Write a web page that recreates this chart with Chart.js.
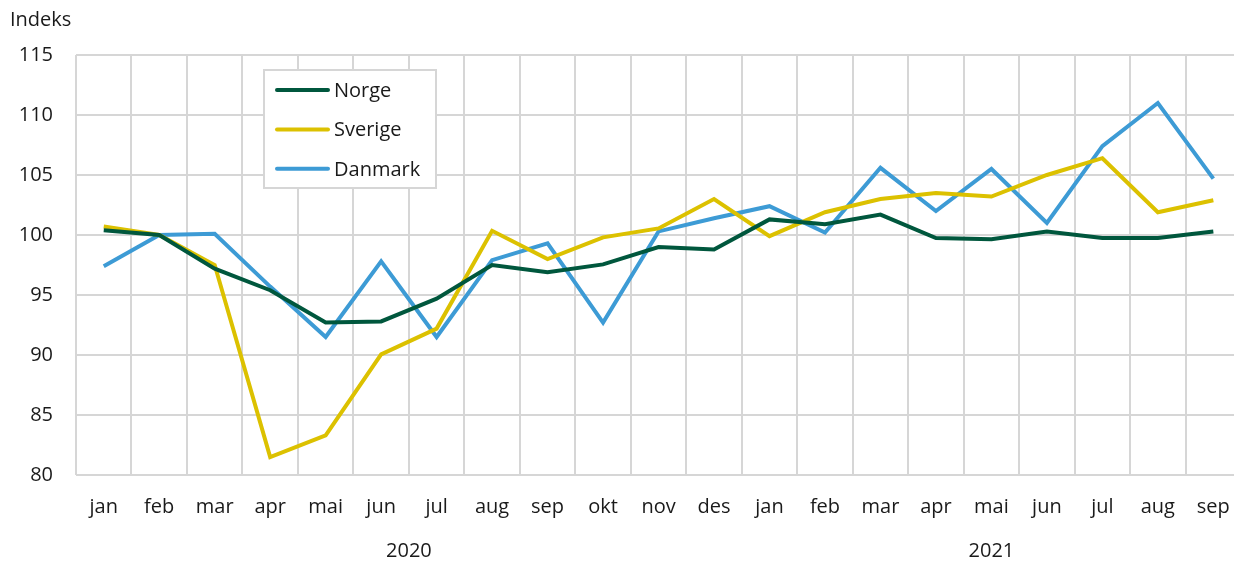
<!DOCTYPE html>
<html>
<head>
<meta charset="utf-8">
<script src="https://cdn.jsdelivr.net/npm/chart.js@4"></script>
<style>
  html, body { margin: 0; padding: 0; background: #fff; overflow: hidden; }
  #wrap { width: 1250px; height: 561px; position: relative; }
</style>
</head>
<body>
<div id="wrap"><canvas id="chart"></canvas></div>
<script>
// ---- data ----
const months = ['jan','feb','mar','apr','mai','jun','jul','aug','sep','okt','nov','des',
                'jan','feb','mar','apr','mai','jun','jul','aug','sep'];
const years = ['2020', '2021'];
const yearFirst = [0, 12];
const yearLast = [11, 20];
const yTicks = [80, 85, 90, 95, 100, 105, 110, 115];

const norge   = [100.4, 100.0, 97.2, 95.4, 92.7, 92.8, 94.7, 97.5, 96.9, 97.55, 99.0, 98.8,
                 101.3, 100.9, 101.7, 99.75, 99.65, 100.3, 99.75, 99.75, 100.3];
const sverige = [100.7, 100.0, 97.5, 81.5, 83.3, 90.05, 92.2, 100.35, 98.0, 99.8, 100.55, 103.0,
                 99.9, 101.9, 103.0, 103.5, 103.2, 105.0, 106.4, 101.9, 102.9];
const danmark = [97.4, 100.0, 100.1, 95.7, 91.5, 97.8, 91.5, 97.9, 99.3, 92.7, 100.3, 101.4,
                 102.4, 100.2, 105.6, 102.0, 105.5, 101.0, 107.4, 111.0, 104.7];

const FONT = 'Open Sans';
const TEXT = '#1a1a1a';
const GRID = '#d6d6d6';

// ---- plugins ----
const extras = {
  id: 'extras',
  afterDraw(chart) {
    const ctx = chart.ctx;
    const a = chart.chartArea;
    const xs = chart.scales.x;
    ctx.save();
    ctx.font = '20px "' + FONT + '"';
    ctx.fillStyle = TEXT;

    // y axis title
    ctx.textAlign = 'left';
    ctx.textBaseline = 'middle';
    ctx.fillText('Indeks', 10, 20);

    // year labels under the months
    ctx.textAlign = 'center';
    years.forEach((yr, i) => {
      const mid = (xs.getPixelForValue(yearFirst[i]) + xs.getPixelForValue(yearLast[i])) / 2;
      ctx.fillText(yr, mid, 551);
    });

    // legend box
    const bx = a.left + 188, by = a.top + 15, bw = 172, bh = 118;
    ctx.fillStyle = '#fff';
    ctx.fillRect(bx, by, bw, bh);
    ctx.strokeStyle = GRID;
    ctx.lineWidth = 2;
    ctx.strokeRect(bx, by, bw, bh);
    ctx.textAlign = 'left';
    chart.data.datasets.forEach((ds, i) => {
      const cy = by + 20 + i * 39.4;
      ctx.strokeStyle = ds.borderColor;
      ctx.lineWidth = 4;
      ctx.lineCap = 'round';
      ctx.beginPath();
      ctx.moveTo(bx + 13, cy);
      ctx.lineTo(bx + 64, cy);
      ctx.stroke();
      ctx.fillStyle = TEXT;
      ctx.fillText(ds.label, bx + 70, cy + 1);
    });
    ctx.restore();
  }
};

// ---- chart ----
const ctx = document.getElementById('chart');

new Chart(ctx, {
  type: 'line',
  data: {
    labels: months,
    datasets: [
      { label: 'Norge',   data: norge,   borderColor: '#00573d' },
      { label: 'Sverige', data: sverige, borderColor: '#dcc100' },
      { label: 'Danmark', data: danmark, borderColor: '#3d9bd5' }
    ].map(d => Object.assign(d, { borderWidth: 4, pointRadius: 0, tension: 0, fill: false }))
  },
  options: {
    responsive: true,
    maintainAspectRatio: false,
    animation: false,
    layout: { padding: { top: 55, right: 7, left: 0, bottom: 0 } },
    plugins: {
      legend: { display: false },
      tooltip: { enabled: false }
    },
    scales: {
      x: {
        offset: true,
        grid: { offset: true, color: GRID, lineWidth: 2, drawTicks: false },
        border: { display: false },
        ticks: { color: TEXT, font: { family: FONT, size: 20 }, padding: 20, maxRotation: 0, autoSkip: false },
        afterFit: s => { s.height = 86; }
      },
      y: {
        min: 80,
        max: 115,
        afterBuildTicks: s => { s.ticks = yTicks.map(v => ({ value: v })); },
        grid: { color: GRID, lineWidth: 2, drawTicks: false },
        border: { display: false },
        ticks: { color: TEXT, font: { family: FONT, size: 20 }, padding: 23 },
        afterFit: s => { s.width = 76; }
      }
    }
  },
  plugins: [extras]
});
</script>
</body>
</html>
